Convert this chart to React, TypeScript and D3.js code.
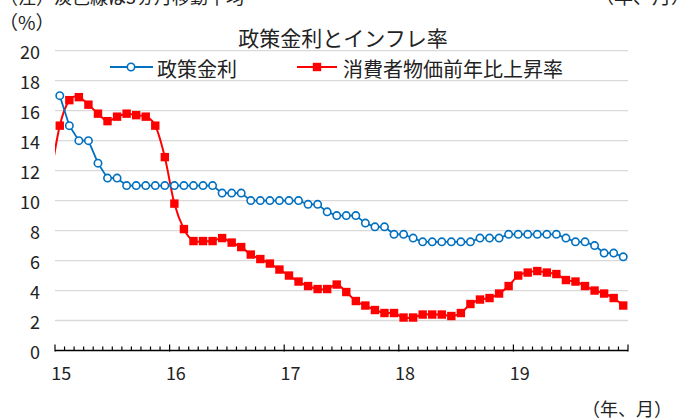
import React from 'react';
import * as d3 from 'd3';

// years on the axis, each has 12 monthly points
const years = ['15', '16', '17', '18', '19'];
const months = years.flatMap(y => d3.range(1, 13).map(m => `${y}-${m}`));

// 政策金利 (month values)
const policyRate = [
  17, 15, 14, 14, 12.5, 11.5, 11.5, 11, 11, 11, 11, 11,
  11, 11, 11, 11, 11, 10.5, 10.5, 10.5, 10, 10, 10, 10,
  10, 10, 9.75, 9.75, 9.25, 9, 9, 9, 8.5, 8.25, 8.25, 7.75,
  7.75, 7.5, 7.25, 7.25, 7.25, 7.25, 7.25, 7.25, 7.5, 7.5, 7.5, 7.75,
  7.75, 7.75, 7.75, 7.75, 7.75, 7.5, 7.25, 7.25, 7, 6.5, 6.5, 6.25
];

// 消費者物価前年比上昇率
const cpi = [
  15.0, 16.7, 16.9, 16.4, 15.8, 15.3, 15.6, 15.8, 15.7, 15.6, 15.0, 12.9,
  9.8, 8.1, 7.3, 7.3, 7.3, 7.5, 7.2, 6.9, 6.4, 6.1, 5.8, 5.4,
  5.0, 4.6, 4.3, 4.1, 4.1, 4.4, 3.9, 3.3, 3.0, 2.7, 2.5, 2.5,
  2.2, 2.2, 2.4, 2.4, 2.4, 2.3, 2.5, 3.1, 3.4, 3.5, 3.8, 4.3,
  5.0, 5.2, 5.3, 5.2, 5.1, 4.7, 4.6, 4.3, 4.0, 3.8, 3.5, 3.0
];
// value of the month before the first one (line is clipped at the edge)
const cpiPrev = 11.4;

const yTicks = d3.range(0, 21, 2);

const W = 688;
const H = 418;
const FONT = '"Noto Sans CJK JP", "Noto Sans", sans-serif';
const BLUE = '#0070C0';
const RED = '#FF0000';

export default function App() {
  const left = 55, right = 628, top = 50.7, bottom = 350.5;

  const x = d3.scaleLinear().domain([-0.5, months.length - 0.5]).range([left, right]);
  const y = d3.scaleLinear().domain([0, 20]).range([bottom, top]);

  const blueLine = d3.line<number>()
    .x((_, i) => x(i))
    .y(d => y(d));

  const redPts: [number, number][] = [[-1, cpiPrev], ...cpi.map((v, i) => [i, v] as [number, number])];
  const redLine = d3.line<[number, number]>()
    .x(d => x(d[0]))
    .y(d => y(d[1]))
    .curve(d3.curveCardinal.tension(0));

  const boundaries = d3.range(0, months.length + 1);

  return (
    <>
      <style>{'body{margin:0}'}</style>
      <svg width={W} height={H} style={{ display: 'block', fontFamily: FONT }}>
        <defs>
          <clipPath id="plot">
            <rect x={left} y={0} width={right - left} height={bottom} />
          </clipPath>
        </defs>
        <rect width={W} height={H} fill="#fff" />

        {/* header notes, cut at the top like the source */}
        <text x={0} y={4} fontSize={18} fill="#222">（注）淡色線は3ヵ月移動平均</text>
        <text x={W + 2} y={4} fontSize={19} fill="#222" textAnchor="end">（年、月）</text>
        <text x={-1} y={30} fontSize={19} fill="#222">（%）</text>

        <text x={343} y={37} fontSize={21} fill="#222" textAnchor="middle" dominantBaseline="central">
          政策金利とインフレ率
        </text>

        {/* grid */}
        {yTicks.filter(t => t > 0).map(t => (
          <line key={t} x1={left} x2={right} y1={y(t)} y2={y(t)} stroke="#D9D9D9" strokeWidth={1.3} />
        ))}
        {yTicks.map(t => (
          <text key={t} x={40} y={y(t)} fontSize={18} fill="#222" textAnchor="end" dominantBaseline="central">
            {t}
          </text>
        ))}

        {/* x axis */}
        <line x1={left} x2={right} y1={bottom} y2={bottom} stroke="#000" strokeWidth={1.5} />
        {boundaries.map(b => {
          const major = b % 12 === 0 || b === months.length;
          const xp = x(b - 0.5);
          return (
            <line key={b} x1={xp} x2={xp} y1={major ? bottom - 6 : bottom - 4} y2={bottom + (major ? 1 : 0)}
              stroke="#000" strokeWidth={1.2} />
          );
        })}
        {years.map((yr, i) => (
          <text key={yr} x={x(i * 12) + 1.5} y={372} fontSize={18} fill="#222" textAnchor="middle" dominantBaseline="central">
            {yr}
          </text>
        ))}
        <text x={672} y={408} fontSize={18} fill="#222" textAnchor="end" dominantBaseline="central">（年、月）</text>

        {/* CPI */}
        <path d={redLine(redPts) || ''} fill="none" stroke={RED} strokeWidth={2} clipPath="url(#plot)" />
        {cpi.map((v, i) => (
          <rect key={i} x={x(i) - 4.2} y={y(v) - 4.2} width={8.4} height={8.4} fill={RED} />
        ))}

        {/* policy rate */}
        <path d={blueLine(policyRate) || ''} fill="none" stroke={BLUE} strokeWidth={1.8} />
        {policyRate.map((v, i) => (
          <circle key={i} cx={x(i)} cy={y(v)} r={3.7} fill="#fff" stroke={BLUE} strokeWidth={1.6} />
        ))}

        {/* legend */}
        <g>
          <line x1={110} x2={153} y1={67} y2={67} stroke={BLUE} strokeWidth={1.8} />
          <circle cx={131} cy={67} r={3.7} fill="#fff" stroke={BLUE} strokeWidth={1.6} />
          <text x={157} y={68} fontSize={20} fill="#222" dominantBaseline="central">政策金利</text>
          <line x1={297} x2={337} y1={67} y2={67} stroke={RED} strokeWidth={2} />
          <rect x={317 - 4.2} y={67 - 4.2} width={8.4} height={8.4} fill={RED} />
          <text x={343} y={68} fontSize={20} fill="#222" dominantBaseline="central">消費者物価前年比上昇率</text>
        </g>
      </svg>
    </>
  );
}
